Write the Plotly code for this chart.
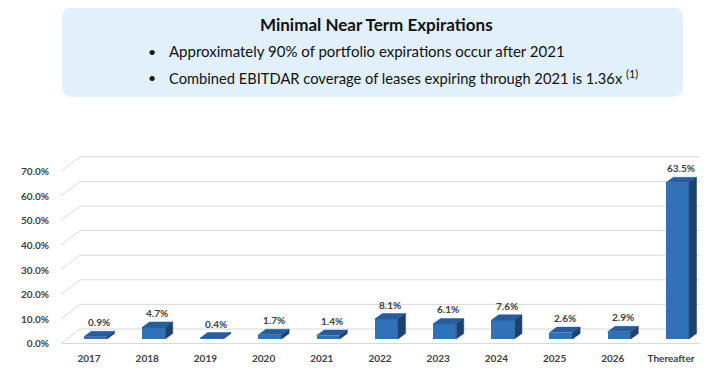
import plotly.graph_objects as go

categories = ["2017", "2018", "2019", "2020", "2021", "2022", "2023", "2024", "2025", "2026", "Thereafter"]
values = [0.9, 4.7, 0.4, 1.7, 1.4, 8.1, 6.1, 7.6, 2.6, 2.9, 63.5]
y_ticks = [0, 10, 20, 30, 40, 50, 60, 70]
y_tick_labels = [f"{v:.1f}%" for v in y_ticks]
title_text = "Minimal Near Term Expirations"
bullets = [
    "Approximately 90% of portfolio expirations occur after 2021",
    "Combined EBITDAR coverage of leases expiring through 2021 is 1.36x",
]
footnote = "(1)"

# page body has an 8px margin: work in reference pixels, then subtract it
OFF = 8
W, H = 720 - OFF, 372 - OFF
ML = 60 - OFF
MR = W - (715 - OFF)
MT = 140 - OFF
MB = H - (348 - OFF)
PX_X = 58.2          # pixels per category
X0_PIX = 89.0 - OFF  # pixel of first category
PX_Y = 2.46          # pixels per percent
Y0_PIX = 339.0 - OFF # pixel of 0%

x_lo = (ML - X0_PIX) / PX_X
x_hi = (W - MR - X0_PIX) / PX_X
y_lo = -(H - MB - Y0_PIX) / PX_Y
y_hi = (Y0_PIX - MT) / PX_Y

BAR_W = 0.40
BAR_OFF = -0.09
DX = 7.5 / PX_X
DY = 5.5 / PX_Y
FRONT_SHIFT = -1.83
BACK_SHIFT = 4.07
GX_FL = (61 - OFF - X0_PIX) / PX_X
GX_BL = (80 - OFF - X0_PIX) / PX_X
GX_R = (700 - OFF - X0_PIX) / PX_X

front_col = "#2F72B8"
top_col = "#285D99"
side_col = "#1D426E"
grid_col = "#D9D9D9"
text_col = "#404040"
FONT = "Lato, 'Open Sans', sans-serif"

idx = list(range(len(categories)))

fig = go.Figure()
fig.add_trace(go.Bar(
    x=idx, y=values, width=BAR_W, offset=BAR_OFF,
    marker=dict(color=front_col, line=dict(width=0)),
    hoverinfo="skip", showlegend=False,
))

shapes = []
for v in y_ticks:
    shapes.append(dict(
        type="path", xref="x", yref="y", layer="below",
        path=f"M {GX_FL},{v + FRONT_SHIFT} L {GX_BL},{v + BACK_SHIFT} L {GX_R},{v + BACK_SHIFT}",
        line=dict(color=grid_col, width=1),
    ))
shapes.append(dict(
    type="line", xref="x", yref="y", layer="below",
    x0=GX_FL, x1=GX_R, y0=FRONT_SHIFT, y1=FRONT_SHIFT,
    line=dict(color=grid_col, width=1),
))

annotations = []
for i, v in zip(idx, values):
    x0 = i + BAR_OFF
    x1 = x0 + BAR_W
    shapes.append(dict(
        type="path", xref="x", yref="y", layer="above",
        path=f"M {x0},{v} L {x0 + DX},{v + DY} L {x1 + DX},{v + DY} L {x1},{v} Z",
        fillcolor=top_col, line=dict(width=0.5, color=top_col),
    ))
    shapes.append(dict(
        type="path", xref="x", yref="y", layer="above",
        path=f"M {x1},0 L {x1},{v} L {x1 + DX},{v + DY} L {x1 + DX},{DY} Z",
        fillcolor=side_col, line=dict(width=0.5, color=side_col),
    ))
    annotations.append(dict(
        x=x0 + BAR_W / 2 + DX / 2, y=v + DY, xref="x", yref="y",
        text=f"{v:.1f}%", showarrow=False, yanchor="bottom", yshift=1,
        font=dict(family=FONT, size=10, color=text_col, weight="bold"),
    ))

PW = W - ML - MR
PH = H - MT - MB
def px2paper(px, py):
    return (px - OFF - ML) / PW, (H - MB - (py - OFF)) / PH

bx0, by0 = px2paper(62, 97)
bx1, by1 = px2paper(683, 7)
rx = 12 / PW
ry = 12 / PH
box_path = (
    f"M {bx0 + rx},{by1} L {bx1 - rx},{by1} Q {bx1},{by1} {bx1},{by1 - ry} "
    f"L {bx1},{by0 + ry} Q {bx1},{by0} {bx1 - rx},{by0} "
    f"L {bx0 + rx},{by0} Q {bx0},{by0} {bx0},{by0 + ry} "
    f"L {bx0},{by1 - ry} Q {bx0},{by1} {bx0 + rx},{by1} Z"
)
shapes.append(dict(type="path", xref="paper", yref="paper", path=box_path,
                   fillcolor="#E2F0FB", line=dict(width=0), layer="below"))

tx, ty = px2paper(376, 24)
annotations.append(dict(
    x=tx, y=ty, xref="paper", yref="paper", text=f"<b>{title_text}</b>",
    showarrow=False, xanchor="center", yanchor="middle",
    font=dict(family=FONT, size=17, color="#111111"),
))
for k, line in enumerate(bullets):
    py = 51 + k * 26
    bxp, byp = px2paper(152, py)
    annotations.append(dict(
        x=bxp, y=byp, xref="paper", yref="paper", text="•",
        showarrow=False, xanchor="center", yanchor="middle",
        font=dict(family=FONT, size=14, color="#111111"),
    ))
    txt = line
    if k == 1:
        txt = line + f" <sup><span style='font-size:11px'>{footnote}</span></sup>"
    lx, ly = px2paper(167, py)
    annotations.append(dict(
        x=lx, y=ly, xref="paper", yref="paper", text=txt,
        showarrow=False, xanchor="left", yanchor="middle",
        font=dict(family=FONT, size=15 if k == 0 else 14.7, color="#111111"),
    ))

fig.update_layout(
    width=W, height=H,
    margin=dict(l=ML, r=MR, t=MT, b=MB, pad=0),
    paper_bgcolor="white", plot_bgcolor="white",
    shapes=shapes, annotations=annotations,
    bargap=0,
    xaxis=dict(
        range=[x_lo, x_hi], tickvals=idx, ticktext=categories,
        showgrid=False, zeroline=False, showline=False, ticks="",
        ticklabelstandoff=3,
        tickfont=dict(family=FONT, size=10, color=text_col, weight="bold"),
        fixedrange=True,
    ),
    yaxis=dict(
        range=[y_lo, y_hi],
        tickvals=[v + FRONT_SHIFT - 0.2 for v in y_ticks], ticktext=y_tick_labels,
        showgrid=False, zeroline=False, showline=False, ticks="",
        ticklabelstandoff=10,
        tickfont=dict(family=FONT, size=10, color=text_col, weight="bold"),
        fixedrange=True,
    ),
    font=dict(family=FONT),
)

fig.write_html("out.html")
